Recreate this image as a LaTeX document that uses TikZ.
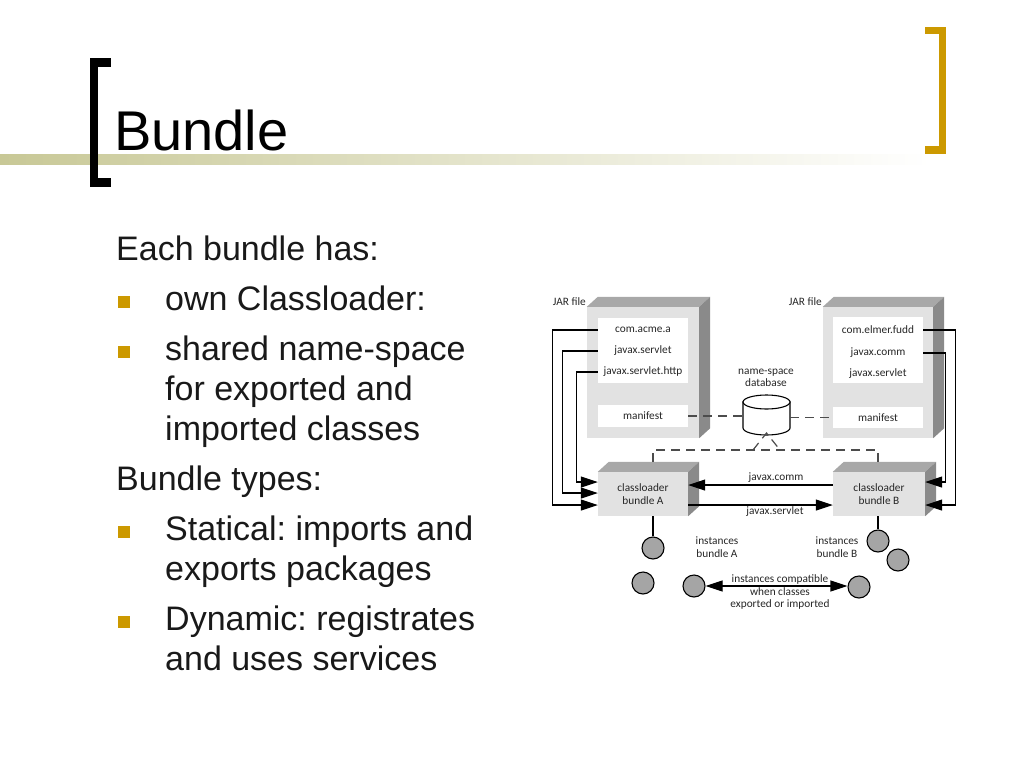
\documentclass[tikz,border=0pt]{standalone}
\usepackage{fontspec}
\setmainfont{Liberation Sans}
\newfontfamily\figfont{Carlito}
\usepackage{xcolor}
\usepackage{tikz}
\usetikzlibrary{calc,arrows.meta}
\frenchspacing

\definecolor{gold}{RGB}{204,153,0}
\definecolor{olive}{RGB}{200,200,150}
\definecolor{facefront}{RGB}{226,226,226}
\definecolor{facetop}{RGB}{168,168,168}
\definecolor{faceside}{RGB}{138,138,138}
\definecolor{instgray}{RGB}{165,165,165}

\begin{document}
\begin{tikzpicture}[x=1pt,y=-1pt,
	lbl/.style={font=\figfont\fontsize{11.3}{12.5}\selectfont, inner sep=0pt, align=center, text=black!85},
	pkg/.style={lbl, minimum width=90pt, minimum height=14pt},
	slab/.style={rectangle, fill=facefront, inner sep=0pt},
	body/.style={anchor=base west, inner sep=0pt, font=\fontsize{34}{40}\selectfont, text=black!90},
	wire/.style={line width=1.1pt},
	arr/.style={wire, -{Triangle[length=17pt,width=11pt]}},
	darr/.style={wire, {Triangle[length=17pt,width=11pt]}-{Triangle[length=17pt,width=11pt]}},
	dashline/.style={line width=1.2pt, draw=black!70, dash pattern=on 9pt off 6pt},
	inst/.style={circle, draw, line width=1.1pt, fill=instgray, minimum size=22pt, inner sep=0pt}]
		\useasboundingbox (0,0) rectangle (1024,768);
		% Title bar and brackets
		\shade[left color=olive, middle color=olive!85, right color=white] (0,154) rectangle (930,164);
		\fill (90,58) rectangle (98,187);
		\fill (90,58) rectangle (111,67);
		\fill (90,178) rectangle (111,187);
		\fill[gold] (939,27) rectangle (946,154);
		\fill[gold] (925,27) rectangle (946,34);
		\fill[gold] (925,146) rectangle (946,154);
		\node[anchor=base west, inner sep=0pt, font=\fontsize{56}{60}\selectfont] (title) at (114,150) {Bundle};
		% Slide text
		\node[body] (l1) at (116,260) {Each bundle has:};
		\node[body] (l2) at (165,310) {own Classloader:};
		\node[body] (l3) at (165,360) {shared name-space};
		\node[body] (l4) at (165,400) {for exported and};
		\node[body] (l5) at (165,440) {imported classes};
		\node[body] (l6) at (116,490) {Bundle types:};
		\node[body] (l7) at (165,540) {Statical: imports and};
		\node[body] (l8) at (165,580) {exports packages};
		\node[body] (l9) at (165,630) {Dynamic: registrates};
		\node[body] (l10) at (165,670) {and uses services};
		\foreach \y in {310,360,540,630}
			\fill[gold] (118,\y-14) rectangle ++(12,12);
		% JAR files
		\node[slab, minimum width=112pt, minimum height=131pt] (ja) at (643,372.5) {};
		\node[slab, minimum width=110pt, minimum height=131pt] (jb) at (878,372.5) {};
		\node[anchor=east, lbl] at (586,302) {JAR file};
		\node[anchor=east, lbl] at (822,302) {JAR file};
		\node[fill=white, minimum width=90pt, minimum height=65pt, inner sep=0pt] (pa) at (643,350.5) {};
		\node[fill=white, minimum width=90pt, minimum height=66pt, inner sep=0pt] (pb) at (878,350) {};
		\node[pkg] (a1) at (643,330) {com.acme.a};
		\node[pkg] (a2) at (643,351) {javax.servlet};
		\node[pkg] (a3) at (643,372) {javax.servlet.http};
		\node[pkg] (b1) at (878,330) {com.elmer.fudd};
		\node[pkg] (b2) at (878,353) {javax.comm};
		\node[pkg] (b3) at (878,374) {javax.servlet};
		\node[pkg, fill=white, minimum height=22pt] (am) at (643,416) {manifest};
		\node[pkg, fill=white, minimum height=21pt] (bm) at (878,417.5) {manifest};
		% Class loaders
		\node[slab, lbl, minimum width=90pt, minimum height=44pt] (ca) at (643,494) {classloader\\bundle A};
		\node[slab, lbl, minimum width=92pt, minimum height=44pt] (cb) at (879,494) {classloader\\bundle B};
		% Top and side faces
		\foreach \n in {ja,jb,ca,cb}{
			\fill[facetop] (\n.north west) -- ++(11,-10) -- ($(\n.north east)+(11,-10)$) -- (\n.north east) -- cycle;
			\fill[faceside] (\n.north east) -- ++(11,-10) -- ($(\n.south east)+(11,-10)$) -- (\n.south east) -- cycle;
		}
		% Name-space database
		\node[lbl] (dbt) at (766,378) {name-space\\database};
		\draw[wire, fill=white] (743,402) -- (743,428) arc[start angle=180, end angle=0, x radius=23.5, y radius=7] -- (790,402) -- cycle;
		\draw[wire, fill=white] (766.5,402) ellipse [x radius=23.5, y radius=7];
		\node[inner sep=0pt, minimum width=47pt, minimum height=40pt] (db) at (766.5,415) {};
		\draw[dashline] (am.east) -- (am.east -| db.west);
		\draw[dashline] (db.east |- bm.west) -- (bm.west);
		\coordinate (ka) at (653,462);
		\coordinate (kb) at (878,462);
		\draw[dashline] (ka) -- ++(0,-12) -| (kb);
		\draw[dashline] (753,450) -- (766.5,433) -- (780,450);
		% Imports into the class loaders
		\draw[arr] (a1.west) -- ++(-45,0) |- ($(ca.west)+(0,11)$);
		\draw[arr] (a2.west) -- ++(-35,0) |- ($(ca.west)+(0,-1)$);
		\draw[arr] (a3.west) -- ++(-21,0) |- ($(ca.west)+(0,-12)$);
		\draw[arr] (b1.east) -- ++(32,0) |- ($(cb.east)+(0,11)$);
		\draw[arr] (b2.east) -- ++(22,0) |- ($(cb.east)+(0,-12)$);
		\draw[arr] ($(cb.west)+(0,-9)$) -- ($(ca.east)+(0,-9)$);
		\draw[arr] ($(ca.east)+(0,11)$) -- ($(cb.west)+(0,11)$);
		\node[lbl] at (776,478) {javax.comm};
		\node[lbl] at (775,512) {javax.servlet};
		% Instances
		\node[inst] (i1) at (653,548) {};
		\node[inst] (i2) at (643,583) {};
		\node[inst] (i3) at (694,586) {};
		\node[inst] (i4) at (878,541) {};
		\node[inst] (i5) at (898,560) {};
		\node[inst] (i6) at (859,587) {};
		\draw[wire] (i1) -- (i1 |- ca.south);
		\draw[wire] (i4) -- (i4 |- cb.south);
		\draw[darr] (i3.east) -- (i3.east -| i6.west);
		\node[lbl] at (717,547) {instances\\bundle A};
		\node[lbl] at (837,547) {instances\\bundle B};
		\node[lbl] at (780,592) {instances compatible\\when classes\\exported or imported};
\end{tikzpicture}
\end{document}
